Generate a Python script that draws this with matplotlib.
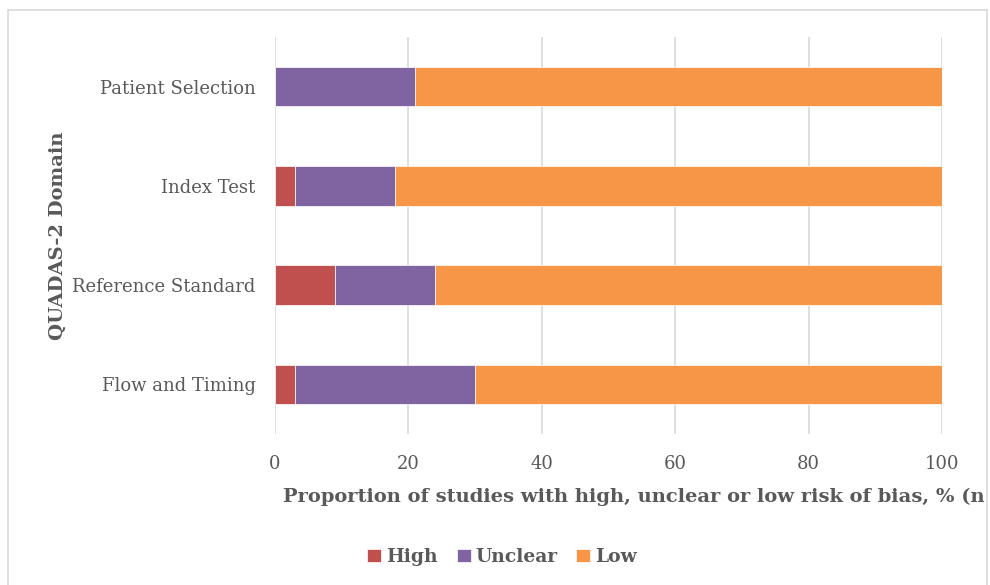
import matplotlib.pyplot as plt
from matplotlib.patches import Rectangle

# QUADAS-2 risk of bias, % of studies
domains = ["Patient Selection", "Index Test", "Reference Standard", "Flow and Timing"]
high = [0, 3, 9, 3]
unclear = [21, 15, 15, 27]
low = [79, 82, 76, 70]

colors = {"High": "#C0504D", "Unclear": "#8064A2", "Low": "#F79646"}
text_col = "#595959"

plt.rcParams["font.family"] = ["DejaVu Serif"]

fig = plt.figure(figsize=(9.9, 5.85), dpi=100)
W, H = 990, 585

# light outer frame
fig.patches.append(Rectangle((8 / W, -0.1), 979 / W, 1.1 - 10 / H, transform=fig.transFigure,
                             fill=False, edgecolor="#D9D9D9", linewidth=1.2))

ax = fig.add_axes([275 / W, 1 - 434 / H, 667 / W, 397 / H])

y = list(range(len(domains)))
left_unclear = high
left_low = [h + u for h, u in zip(high, unclear)]
ax.barh(y, high, height=0.4, color=colors["High"], edgecolor="white", linewidth=0.5, label="High", zorder=3)
ax.barh(y, unclear, left=left_unclear, height=0.4, color=colors["Unclear"], edgecolor="white",
        linewidth=0.5, label="Unclear", zorder=3)
ax.barh(y, low, left=left_low, height=0.4, color=colors["Low"], edgecolor="white",
        linewidth=0.5, label="Low", zorder=3)

ax.set_ylim(3.5, -0.5)
ax.set_xlim(0, 100)
ax.set_xticks(range(0, 101, 20))
ax.set_yticks(y)
ax.set_yticklabels(domains)
ax.tick_params(length=0, labelsize=13, labelcolor=text_col)
ax.tick_params(axis="x", pad=15)
ax.tick_params(axis="y", pad=14)
ax.grid(axis="x", color="#D9D9D9", linewidth=1.2, zorder=0)
for s in ax.spines.values():
    s.set_visible(False)

fig.text(58 / W, 1 - 236 / H, "QUADAS-2 Domain", rotation=90, ha="center", va="center",
         fontsize=14, fontweight="bold", color=text_col)

# the label runs past the chart frame in the original, only this much shows
fig.text(283 / W, 1 - 497 / H,
         "Proportion of studies with high, unclear or low risk of bias, % (n",
         ha="left", va="center", fontsize=14, fontweight="bold", color=text_col)

leg = fig.legend(loc="center", bbox_to_anchor=(502 / W, 1 - 557 / H), ncol=3, frameon=False,
                 handlelength=0.75, handleheight=0.75, handletextpad=0.25, columnspacing=1.0,
                 prop={"size": 13.5, "weight": "bold"})
for t in leg.get_texts():
    t.set_color(text_col)

fig.savefig("out.png", dpi=100)
